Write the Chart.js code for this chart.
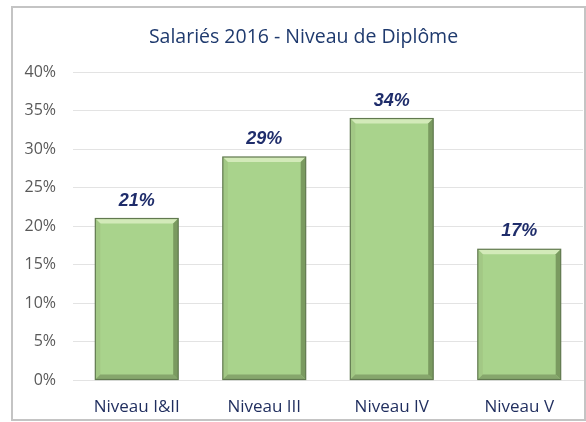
<!DOCTYPE html>
<html>
<head>
<meta charset="utf-8">
<script src="https://cdn.jsdelivr.net/npm/chart.js@4/dist/chart.umd.min.js"></script>
<style>
html,body{margin:0;padding:0;background:#fff;}
#wrap{position:absolute;left:0;top:0;width:586px;height:422px;}
</style>
</head>
<body>
<div id="wrap"><canvas id="c" width="586" height="422"></canvas></div>
<script>
const categories = ["Niveau I&II", "Niveau III", "Niveau IV", "Niveau V"];
const values = [21, 29, 34, 17];
const titleText = "Salariés 2016 - Niveau de Diplôme";

const framePlugin = {
  id: 'frame',
  beforeDraw(chart) {
    const ctx = chart.ctx;
    ctx.save();
    ctx.fillStyle = '#ffffff';
    ctx.fillRect(0, 0, chart.width, chart.height);
    ctx.strokeStyle = '#c4c4c4';
    ctx.lineWidth = 2;
    ctx.strokeRect(12, 7, 573, 413);
    ctx.restore();
  }
};

const bevelPlugin = {
  id: 'bevel',
  afterDatasetsDraw(chart) {
    const ctx = chart.ctx;
    const meta = chart.getDatasetMeta(0);
    meta.data.forEach(bar => {
      const w = bar.width, l = bar.x - w / 2, r = bar.x + w / 2, t = bar.y, b = bar.base;
      const d = 5;
      ctx.save();
      ctx.fillStyle = 'rgba(215,236,190,0.9)';
      ctx.beginPath(); ctx.moveTo(l, t); ctx.lineTo(r, t); ctx.lineTo(r - d, t + d); ctx.lineTo(l + d, t + d); ctx.closePath(); ctx.fill();
      ctx.fillStyle = 'rgba(160,195,130,0.7)';
      ctx.beginPath(); ctx.moveTo(l, t); ctx.lineTo(l + d, t + d); ctx.lineTo(l + d, b - d); ctx.lineTo(l, b); ctx.closePath(); ctx.fill();
      ctx.fillStyle = 'rgba(110,140,85,0.8)';
      ctx.beginPath(); ctx.moveTo(r, t); ctx.lineTo(r - d, t + d); ctx.lineTo(r - d, b - d); ctx.lineTo(r, b); ctx.closePath(); ctx.fill();
      ctx.fillStyle = 'rgba(125,155,100,0.8)';
      ctx.beginPath(); ctx.moveTo(l, b); ctx.lineTo(l + d, b - d); ctx.lineTo(r - d, b - d); ctx.lineTo(r, b); ctx.closePath(); ctx.fill();
      ctx.strokeStyle = '#61794f';
      ctx.lineWidth = 1.2;
      ctx.strokeRect(l, t, w, b - t);
      ctx.restore();
    });
  }
};

const labelPlugin = {
  id: 'valLabels',
  afterDatasetsDraw(chart) {
    const ctx = chart.ctx;
    const meta = chart.getDatasetMeta(0);
    ctx.save();
    ctx.font = 'italic bold 18px "Liberation Sans", "DejaVu Sans", sans-serif';
    ctx.fillStyle = '#1f2d6b';
    ctx.textAlign = 'center';
    ctx.textBaseline = 'alphabetic';
    meta.data.forEach((bar, i) => {
      ctx.fillText(values[i] + '%', bar.x, bar.y - 13);
    });
    ctx.restore();
  }
};

new Chart(document.getElementById('c'), {
  type: 'bar',
  data: {
    labels: categories,
    datasets: [{
      data: values,
      backgroundColor: '#a9d38c',
      borderWidth: 0,
      categoryPercentage: 1.0,
      barPercentage: 0.65
    }]
  },
  options: {
    responsive: false,
    animation: false,
    layout: { padding: { left: 24, right: 3, top: 14, bottom: 5 } },
    plugins: {
      legend: { display: false },
      tooltip: { enabled: false },
      title: {
        display: true,
        text: titleText,
        color: '#1f3a6e',
        font: { family: '"Open Sans", "Liberation Sans", sans-serif', size: 19.5, weight: 'normal', lineHeight: 1.2 },
        padding: { top: 12, bottom: 23 }
      }
    },
    scales: {
      y: {
        min: 0, max: 40,
        afterFit: s => { s.width = 49; },
        ticks: {
          stepSize: 5,
          callback: v => v + '%',
          color: '#595959',
          font: { family: '"Open Sans", "Liberation Sans", sans-serif', size: 16 },
          padding: 17
        },
        grid: { color: '#e3e3e3', lineWidth: 1, drawTicks: false },
        border: { display: false }
      },
      x: {
        afterFit: s => { s.height = 37; },
        ticks: {
          color: '#1f2d5e',
          font: { family: '"Open Sans", "Liberation Sans", sans-serif', size: 17, lineHeight: 1.2 },
          padding: 17,
          maxRotation: 0
        },
        grid: { display: false, drawTicks: false },
        border: { display: true, color: '#e3e3e3' }
      }
    }
  },
  plugins: [framePlugin, bevelPlugin, labelPlugin]
});
</script>
</body>
</html>
